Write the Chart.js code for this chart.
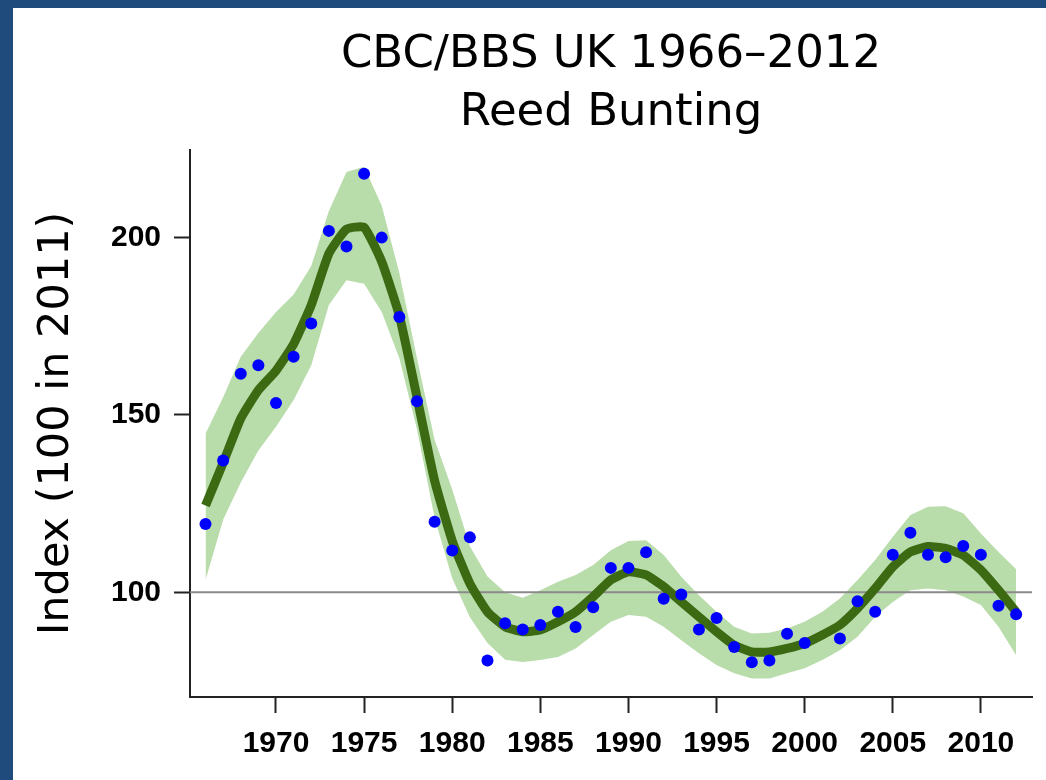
<!DOCTYPE html>
<html>
<head>
<meta charset="utf-8">
<title>CBC/BBS UK 1966–2012 Reed Bunting</title>
<script src="https://cdn.jsdelivr.net/npm/chart.js@4.4.1/dist/chart.umd.min.js"></script>
<style>
  html, body { margin: 0; padding: 0; background: #1f4a7c; overflow: hidden; }
  #frame { position: absolute; left: 13px; top: 8px; width: 1033px; height: 772px; background: #fff; }
  canvas { display: block; }
</style>
</head>
<body>
<div id="frame"><canvas id="chart" width="1033" height="772"></canvas></div>
<script>
// years 1966..2012, one value per year (2001: no survey)
const years = [1966, 1967, 1968, 1969, 1970, 1971, 1972, 1973, 1974, 1975,
  1976, 1977, 1978, 1979, 1980, 1981, 1982, 1983, 1984, 1985,
  1986, 1987, 1988, 1989, 1990, 1991, 1992, 1993, 1994, 1995,
  1996, 1997, 1998, 1999, 2000, 2001, 2002, 2003, 2004, 2005,
  2006, 2007, 2008, 2009, 2010, 2011, 2012];

const annualIndex = [119.3, 137.2, 161.6, 164.0, 153.4, 166.4, 175.8, 201.9, 197.5, 218.0,
  200.0, 177.6, 153.9, 119.9, 111.8, 115.5, 80.8, 91.3, 89.5, 90.8,
  94.5, 90.2, 95.8, 106.9, 106.9, 111.3, 98.2, 99.4, 89.5, 92.8,
  84.6, 80.3, 80.8, 88.3, 85.7, null, 87.0, 97.5, 94.5, 110.6,
  116.8, 110.6, 109.9, 113.1, 110.6, 96.2, 93.8];

const smoothedIndex = [124.5, 136.5, 149.0, 157.0, 162.5, 170.0, 181.0, 195.5, 202.4, 202.9,
  193.2, 178.0, 155.0, 131.5, 114.5, 102.5, 94.5, 90.3, 88.9, 89.4,
  91.7, 94.5, 98.8, 103.5, 105.8, 104.9, 101.6, 97.3, 93.1, 88.9,
  85.1, 83.2, 83.2, 84.2, 85.6, 88.0, 90.8, 95.5, 101.1, 107.2,
  111.4, 112.9, 112.4, 110.5, 106.3, 100.6, 94.5];

const upperLimit = [144.7, 155.0, 166.4, 173.1, 179.0, 184.0, 192.0, 207.5, 218.5, 220.0,
  209.0, 190.0, 166.0, 143.0, 129.0, 113.0, 104.5, 100.0, 98.5, 100.6,
  103.0, 104.9, 107.7, 111.9, 114.5, 114.7, 110.5, 104.4, 99.2, 94.5,
  90.3, 88.4, 88.6, 89.8, 91.7, 94.5, 98.3, 103.5, 109.1, 115.7,
  121.8, 124.1, 124.3, 122.3, 116.6, 111.4, 106.5];

const lowerLimit = [103.5, 120.5, 131.0, 140.0, 146.7, 154.2, 164.0, 181.0, 188.0, 187.0,
  179.0, 166.0, 146.0, 121.0, 104.0, 93.0, 85.7, 81.0, 80.4, 80.9,
  81.8, 84.2, 88.0, 91.7, 93.6, 93.1, 90.3, 86.5, 82.8, 79.5,
  77.2, 75.7, 75.7, 77.2, 78.6, 80.9, 83.7, 87.5, 93.1, 97.3,
  100.6, 101.1, 100.6, 98.8, 96.4, 90.3, 82.3];

const xTicks = [1970, 1975, 1980, 1985, 1990, 1995, 2000, 2005, 2010];
const yTicks = [100, 150, 200];
const baseline = 100;
const xRange = [1965.12, 2012.9];
const yRange = [70.5, 224.7];

const pts = arr => years.map((yr, i) => ({ x: yr, y: arr[i] }));

const tickFont = { family: "'Liberation Sans', Arial, sans-serif", size: 30, weight: 'bold' };
const axisDark = '#222';

// keep the two-line title centred over the plot area, like the original
const centreTitle = {
  id: 'centreTitle',
  afterLayout(chart) {
    const t = chart.titleBlock;
    const a = chart.chartArea;
    if (t) { t.left = a.left; t.right = a.right; t.width = a.right - a.left; }
  }
};

new Chart(document.getElementById('chart'), {
  type: 'line',
  data: {
    datasets: [
      {
        label: 'Annual index',
        data: pts(annualIndex),
        showLine: false,
        pointRadius: 6,
        pointBackgroundColor: '#0000ff',
        pointBorderWidth: 0,
        order: 0
      },
      {
        label: 'Smoothed trend',
        data: pts(smoothedIndex),
        borderColor: '#3c6a13',
        borderWidth: 9,
        pointRadius: 0,
        tension: 0.15,
        fill: false,
        order: 1
      },
      {
        label: 'Baseline',
        data: [{ x: xRange[0], y: baseline }, { x: xRange[1], y: baseline }],
        borderColor: '#8a8a8a',
        borderWidth: 2,
        pointRadius: 0,
        fill: false,
        order: 2
      },
      {
        label: 'Upper limit',
        data: pts(upperLimit),
        borderWidth: 0,
        borderColor: 'rgba(0,0,0,0)',
        backgroundColor: '#b9dcab',
        pointRadius: 0,
        tension: 0,
        fill: '+1',
        order: 3
      },
      {
        label: 'Lower limit',
        data: pts(lowerLimit),
        borderWidth: 0,
        borderColor: 'rgba(0,0,0,0)',
        pointRadius: 0,
        tension: 0,
        fill: false,
        order: 4
      }
    ]
  },
  options: {
    responsive: false,
    animation: false,
    layout: { padding: { left: 0, right: 14, top: 0, bottom: 0 } },
    plugins: {
      legend: { display: false },
      tooltip: { enabled: false },
      title: {
        display: true,
        text: ['CBC/BBS UK 1966–2012', 'Reed Bunting'],
        color: '#000',
        font: { family: "'DejaVu Sans', Verdana, sans-serif", size: 45, weight: 'normal', lineHeight: '58px' },
        padding: { top: 18, bottom: 8 }
      }
    },
    scales: {
      x: {
        type: 'linear',
        min: xRange[0],
        max: xRange[1],
        afterBuildTicks: s => { s.ticks = xTicks.map(v => ({ value: v })); },
        afterFit: s => { s.height = 83; },
        ticks: {
          font: tickFont,
          color: '#000',
          padding: 13,
          maxRotation: 0,
          callback: v => String(v)
        },
        grid: {
          display: true,
          drawOnChartArea: false,
          tickLength: 16,
          tickColor: axisDark,
          tickWidth: 2
        },
        border: { display: true, color: axisDark, width: 2 }
      },
      y: {
        type: 'linear',
        min: yRange[0],
        max: yRange[1],
        afterBuildTicks: s => { s.ticks = yTicks.map(v => ({ value: v })); },
        afterFit: s => { s.width = 177; },
        ticks: {
          font: tickFont,
          color: '#000',
          padding: 13
        },
        grid: {
          display: true,
          drawOnChartArea: false,
          tickLength: 16,
          tickColor: axisDark,
          tickWidth: 2
        },
        border: { display: true, color: axisDark, width: 2 },
        title: {
          display: true,
          text: 'Index (100 in 2011)',
          color: '#000',
          font: { family: "'DejaVu Sans', Verdana, sans-serif", size: 43, weight: 'normal' },
          padding: { top: 18, bottom: 0 }
        }
      }
    }
  },
  plugins: [centreTitle]
});
</script>
</body>
</html>
